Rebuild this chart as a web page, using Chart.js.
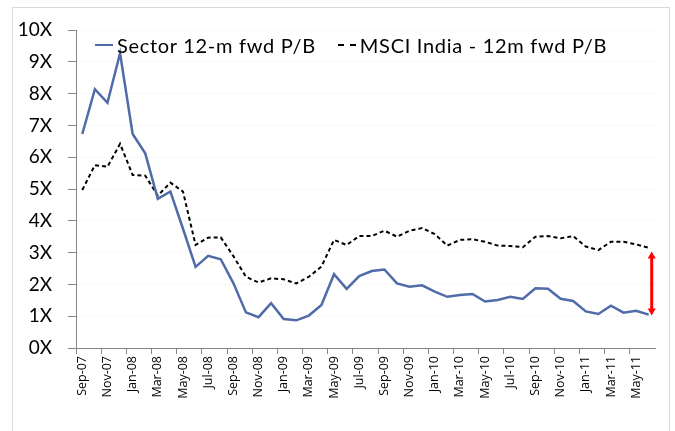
<!DOCTYPE html>
<html>
<head>
<meta charset="utf-8">
<script src="https://cdn.jsdelivr.net/npm/chart.js@4"></script>
<style>
  html, body { margin: 0; padding: 0; background: #fff; }
  #wrap { position: relative; width: 675px; height: 431px; }
  #frame { position: absolute; left: 12px; top: 7px; width: 656px; height: 440px; border: 1px solid #d9d9d9; pointer-events: none; }
  #legend { position: absolute; left: 95px; top: 33px; display: flex; align-items: center; font-family: Lato, "Open Sans", sans-serif; font-size: 20px; letter-spacing: 0.7px; color: #000; white-space: nowrap; }
  #legend .item { display: flex; align-items: center; margin-right: 22px; }
  #legend .swatch { width: 18px; height: 0; margin-right: 4px; }
</style>
</head>
<body>
<div id="wrap">
  <canvas id="chart" width="675" height="431"></canvas>
  <div id="legend"></div>
  <div id="frame"></div>
</div>
<script>
const months = [
  'Sep-07', 'Oct-07', 'Nov-07', 'Dec-07', 'Jan-08', 'Feb-08', 'Mar-08', 'Apr-08', 'May-08', 'Jun-08',
  'Jul-08', 'Aug-08', 'Sep-08', 'Oct-08', 'Nov-08', 'Dec-08', 'Jan-09', 'Feb-09', 'Mar-09', 'Apr-09',
  'May-09', 'Jun-09', 'Jul-09', 'Aug-09', 'Sep-09', 'Oct-09', 'Nov-09', 'Dec-09', 'Jan-10', 'Feb-10',
  'Mar-10', 'Apr-10', 'May-10', 'Jun-10', 'Jul-10', 'Aug-10', 'Sep-10', 'Oct-10', 'Nov-10', 'Dec-10',
  'Jan-11', 'Feb-11', 'Mar-11', 'Apr-11', 'May-11', 'Jun-11',
];

const sectorPB = [
  6.73, 8.14, 7.71, 9.27, 6.73, 6.12, 4.69, 4.92, 3.75, 2.55,
  2.90, 2.79, 2.04, 1.12, 0.97, 1.41, 0.91, 0.87, 1.02, 1.35,
  2.32, 1.86, 2.26, 2.42, 2.47, 2.03, 1.93, 1.97, 1.77, 1.61,
  1.67, 1.70, 1.46, 1.51, 1.61, 1.54, 1.88, 1.86, 1.55, 1.48,
  1.15, 1.07, 1.33, 1.11, 1.17, 1.05,
];

const msciPB = [
  4.97, 5.75, 5.70, 6.42, 5.44, 5.42, 4.79, 5.20, 4.92, 3.24,
  3.47, 3.48, 2.89, 2.24, 2.06, 2.19, 2.16, 2.03, 2.24, 2.56,
  3.40, 3.24, 3.52, 3.52, 3.69, 3.50, 3.69, 3.77, 3.58, 3.22,
  3.40, 3.42, 3.34, 3.22, 3.21, 3.17, 3.50, 3.52, 3.45, 3.52,
  3.19, 3.08, 3.34, 3.34, 3.26, 3.15,
];

const yTicks = [0, 1, 2, 3, 4, 5, 6, 7, 8, 9, 10];

// red gap arrow at the last month
const arrowLow = 1.05;
const arrowHigh = 3.0;

const FONT = 'Lato, "Open Sans", sans-serif';

const gapArrow = {
  id: 'gapArrow',
  afterDatasetsDraw(chart) {
    const { ctx, scales } = chart;
    const x = scales.x.getPixelForValue(months.length - 1) + 3;
    const y1 = scales.y.getPixelForValue(arrowHigh);
    const y2 = scales.y.getPixelForValue(arrowLow);
    ctx.save();
    ctx.strokeStyle = '#ff0000';
    ctx.fillStyle = '#ff0000';
    ctx.lineWidth = 3;
    ctx.beginPath();
    ctx.moveTo(x, y1 + 4);
    ctx.lineTo(x, y2 - 4);
    ctx.stroke();
    ctx.beginPath();
    ctx.moveTo(x, y1 - 1);
    ctx.lineTo(x - 4, y1 + 6);
    ctx.lineTo(x + 4, y1 + 6);
    ctx.closePath();
    ctx.fill();
    ctx.beginPath();
    ctx.moveTo(x, y2 + 1);
    ctx.lineTo(x - 4, y2 - 6);
    ctx.lineTo(x + 4, y2 - 6);
    ctx.closePath();
    ctx.fill();
    ctx.restore();
  },
};

const chart = new Chart(document.getElementById('chart'), {
  type: 'line',
  data: {
    labels: months,
    datasets: [
      {
        label: 'Sector 12-m fwd P/B',
        data: sectorPB,
        borderColor: '#4f6ba8',
        backgroundColor: '#4f6ba8',
        borderWidth: 2.5,
        pointRadius: 0,
        tension: 0,
      },
      {
        label: 'MSCI India - 12m fwd P/B',
        data: msciPB,
        borderColor: '#000000',
        backgroundColor: '#000000',
        borderWidth: 2,
        borderDash: [4, 3],
        pointRadius: 0,
        tension: 0,
      },
    ],
  },
  options: {
    responsive: false,
    animation: false,
    layout: { padding: { top: 30, right: 20, left: 0, bottom: 0 } },
    plugins: {
      tooltip: { enabled: false },
      legend: { display: false },
    },
    scales: {
      x: {
        offset: true,
        afterFit(scale) { scale.height = 83; },
        grid: {
          offset: true,
          drawOnChartArea: false,
          tickLength: 6,
          tickColor: (c) => (c.index % 2 === 0 ? '#868686' : 'rgba(0,0,0,0)'),
        },
        border: { color: '#868686', width: 1 },
        ticks: {
          autoSkip: false,
          minRotation: 90,
          maxRotation: 90,
          padding: 2,
          color: '#000',
          font: { family: '"Open Sans", sans-serif', size: 12.5 },
          callback: (v, i) => (i % 2 === 0 ? months[i] : ''),
        },
      },
      y: {
        min: 0,
        max: 10,
        afterFit(scale) { scale.width = 76; },
        afterBuildTicks(scale) { scale.ticks = yTicks.map((v) => ({ value: v })); },
        grid: {
          color: '#e4e4e4',
          tickColor: '#868686',
          tickLength: 8,
        },
        border: { color: '#868686', width: 1, dash: [1, 3] },
        ticks: {
          padding: 16,
          color: '#000',
          font: { family: FONT, size: 19 },
          callback: (v) => v + 'X',
        },
      },
    },
  },
  plugins: [gapArrow],
});

function renderLegend() {
  const el = document.getElementById('legend');
  el.innerHTML = chart.data.datasets
    .map((d) => {
      const style = d.borderDash ? 'dashed' : 'solid';
      return `<div class="item">
        <span class="swatch" style="border-top: ${d.borderWidth}px ${style} ${d.borderColor}"></span>
        <span>${d.label}</span>
      </div>`;
    })
    .join('');
}

renderLegend();
</script>
</body>
</html>
